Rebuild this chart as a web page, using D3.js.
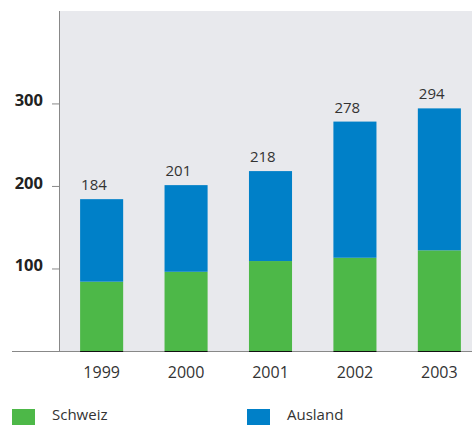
<!DOCTYPE html>
<html>
<head>
<meta charset="utf-8">
<script src="https://cdn.jsdelivr.net/npm/d3@7"></script>
<style>
  body { margin: 0; background: #fff; }
  svg { display: block; font-family: "Open Sans", "Noto Sans", sans-serif; }
</style>
</head>
<body>
<div id="chart"></div>
<script>
let years = ['1999', '2000', '2001', '2002', '2003'];
let schweiz = [84, 96, 109, 113, 122];
let totals = [184, 201, 218, 278, 294];
let yTicks = [100, 200, 300];
let seriesNames = ['Schweiz', 'Ausland'];
let colors = ['#4db848', '#0080c8'];

let width = 472;
let height = 425;

var svg = d3.select("#chart")
    .append("svg")
    .attr("width", width)
    .attr("height", height);

// stacked rows built from the arrays
let rows = years.map(function (yr, i) {
    return { year: yr, Schweiz: schweiz[i], Ausland: totals[i] - schweiz[i], total: totals[i] };
});
let stacked = d3.stack().keys(seriesNames)(rows);

var x = d3.scaleBand()
    .domain(years)
    .range([59, 482])
    .paddingInner(0.49)
    .paddingOuter(0.25);

var y = d3.scaleLinear()
    .domain([0, 412])
    .range([351, 11]);

// plot background
svg.append("rect")
    .attr("x", 59)
    .attr("y", y(412))
    .attr("width", width - 59)
    .attr("height", y(0) - y(412))
    .attr("fill", "#e8e9ed");

// bars
svg.selectAll("g.series")
    .data(stacked)
    .enter()
    .append("g")
    .attr("class", "series")
    .attr("fill", function (d, i) { return colors[i]; })
    .selectAll("rect")
    .data(function (d) { return d; })
    .enter()
    .append("rect")
    .attr("x", function (d) { return x(d.data.year); })
    .attr("y", function (d) { return y(d[1]); })
    .attr("width", x.bandwidth())
    .attr("height", function (d) { return y(d[0]) - y(d[1]); });

// value labels
svg.selectAll("text.total")
    .data(rows)
    .enter()
    .append("text")
    .attr("class", "total")
    .attr("x", function (d) { return x(d.year) + 1; })
    .attr("y", function (d) { return y(d.total) - 9; })
    .attr("font-size", 15)
    .attr("fill", "#333")
    .text(function (d) { return d.total; });

// y axis
var yAxis = svg.append("g")
    .attr("transform", "translate(59,0)")
    .call(d3.axisLeft(y).tickValues(yTicks).tickSize(7).tickPadding(9));
yAxis.select(".domain").remove();
yAxis.selectAll("line").attr("stroke", "#888");
yAxis.selectAll("text")
    .attr("font-size", 16.5)
    .attr("font-weight", "bold")
    .attr("fill", "#222")
    .attr("font-family", "\"Open Sans\", sans-serif")
    .attr("dy", "0.15em");

svg.append("line")
    .attr("x1", 59.5).attr("x2", 59.5)
    .attr("y1", y(412)).attr("y2", y(0))
    .attr("stroke", "#888");

// x axis
var xAxis = svg.append("g")
    .attr("transform", "translate(0," + y(0) + ")")
    .call(d3.axisBottom(x).tickSize(0).tickPadding(16));
xAxis.select(".domain").remove();
xAxis.selectAll("text")
    .attr("font-size", 16)
    .attr("fill", "#333")
    .attr("font-family", "\"Open Sans\", sans-serif");

svg.append("line")
    .attr("x1", 12).attr("x2", width)
    .attr("y1", y(0) + 0.5).attr("y2", y(0) + 0.5)
    .attr("stroke", "#888");

// dark line under each bar
svg.selectAll("line.base")
    .data(years)
    .enter()
    .append("line")
    .attr("class", "base")
    .attr("x1", function (d) { return x(d); })
    .attr("x2", function (d) { return x(d) + x.bandwidth(); })
    .attr("y1", y(0) + 0.5).attr("y2", y(0) + 0.5)
    .attr("stroke", "#111");

// legend
let legendX = [12, 247];
var legend = svg.selectAll("g.legend")
    .data(seriesNames)
    .enter()
    .append("g")
    .attr("class", "legend")
    .attr("transform", function (d, i) { return "translate(" + legendX[i] + ",409)"; });
legend.append("rect")
    .attr("width", 23)
    .attr("height", 16)
    .attr("fill", function (d, i) { return colors[i]; });
legend.append("text")
    .attr("x", 40)
    .attr("y", 11)
    .attr("font-size", 15)
    .attr("fill", "#333")
    .text(function (d) { return d; });
</script>
</body>
</html>
